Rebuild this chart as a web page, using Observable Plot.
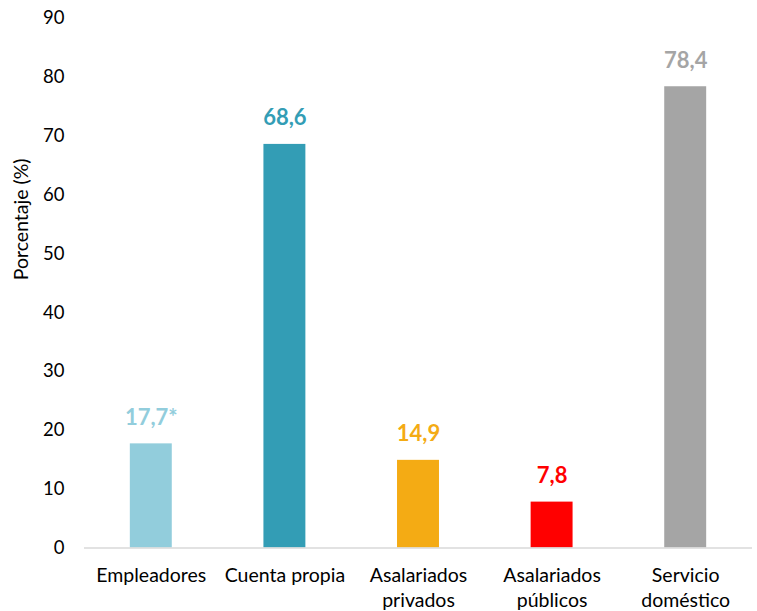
<!DOCTYPE html>
<html>
<head>
<meta charset="utf-8">
<script src="https://cdn.jsdelivr.net/npm/d3@7"></script>
<script src="https://cdn.jsdelivr.net/npm/@observablehq/plot@0.6"></script>
<style>
  html, body { margin: 0; padding: 0; background: #fff; }
  #chart svg { display: block; }
</style>
</head>
<body>
<div id="chart"></div>
<script>
const categories = ["Empleadores", "Cuenta propia", "Asalariados privados", "Asalariados públicos", "Servicio doméstico"];
const tickLabels = ["Empleadores", "Cuenta propia", "Asalariados\nprivados", "Asalariados\npúblicos", "Servicio\ndoméstico"];
const values = [17.7, 68.6, 14.9, 7.8, 78.4];
const valueLabels = ["17,7*", "68,6", "14,9", "7,8", "78,4"];
const colors = ["#92CDDC", "#339DB5", "#F4AB14", "#FF0000", "#A5A5A5"];
const yTicks = [0, 10, 20, 30, 40, 50, 60, 70, 80, 90];

const data = categories.map((c, i) => ({cat: c, value: values[i], label: valueLabels[i], color: colors[i]}));

const font = "Lato, 'Open Sans', sans-serif";

const chart = Plot.plot({
  width: 757,
  height: 611,
  marginTop: 18,
  marginBottom: 63.5,
  marginLeft: 84,
  marginRight: 5,
  style: {fontFamily: font, fontSize: "19px", color: "#000", background: "#fff"},
  x: {domain: categories, paddingInner: 0.686, paddingOuter: 0.343, round: false, label: null},
  y: {domain: [0, 90], label: null},
  marks: [
    Plot.barY(data, {x: "cat", y: "value", fill: "color"}),
    Plot.ruleY([0], {stroke: "#D9D9D9", strokeWidth: 1.5}),
    Plot.text(data, {x: "cat", y: "value", text: "label", fill: "color", dy: -26, fontWeight: "bold", fontSize: 22}),
    Plot.axisY({ticks: yTicks, tickSize: 0, tickPadding: 20, fontSize: 18.5, label: null}),
    Plot.axisX({tickSize: 0, tickPadding: 16, fontSize: 19.5, lineHeight: 1.3,
      tickFormat: d => tickLabels[categories.indexOf(d)], label: null}),
    Plot.text(["Porcentaje (%)"], {frameAnchor: "left", dx: -63, dy: -3, rotate: -90, fontSize: 19.5, fill: "#000"})
  ]
});

document.getElementById("chart").appendChild(chart);
</script>
</body>
</html>
